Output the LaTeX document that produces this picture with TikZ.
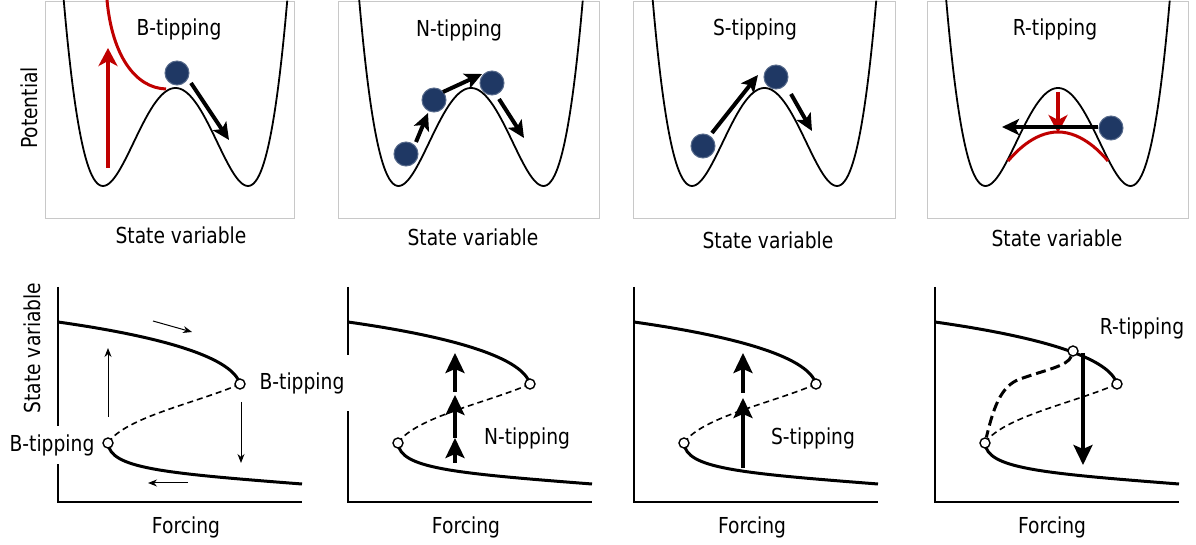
\documentclass[tikz,border=0pt]{standalone}
\usepackage{fontspec}
\setmainfont{DejaVu Sans}[FakeStretch=0.85]
\usetikzlibrary{arrows.meta}

\definecolor{tipred}{RGB}{192,0,0}
\definecolor{ballblue}{RGB}{31,56,100}
\definecolor{framegray}{RGB}{200,200,200}

\tikzset{
  frame/.style={draw=framegray,line width=0.5pt},
  wellline/.style={line width=0.9pt},
  ball/.style={circle,fill=ballblue,draw=ballblue!75!white,line width=0.5pt,minimum size=12pt,inner sep=0pt},
  push/.style={line width=2pt,-{Stealth[length=8.5pt,width=8pt,inset=2pt]}},
  redpush/.style={draw=tipred,line width=1.7pt,-{Stealth[length=9pt,width=9.5pt,inset=2.5pt]}},
  redline/.style={draw=tipred,line width=1.5pt},
  axis/.style={line width=1pt},
  branch/.style={line width=1.5pt},
  unstable/.style={line width=0.8pt,dash pattern=on 3pt off 2pt},
  rdash/.style={line width=1.5pt,dash pattern=on 5pt off 2.5pt},
  fold/.style={circle,draw,fill=white,line width=0.7pt,minimum size=5pt,inner sep=0pt},
  thin/.style={line width=0.5pt,-{Stealth[length=4.5pt,width=3.5pt]}},
  jump/.style={line width=1.8pt,-{Stealth[length=10pt,width=9.5pt,inset=2pt]}},
  lab/.style={fill=white,inner xsep=3pt,inner ysep=4pt},
  well/.pic={
    \draw[wellline] plot[domain=-1.542:1.542,samples=120,smooth]
      ({72.5*\x},{88+98*(1-(\x*\x-1)*(\x*\x-1))});
  },
  bif/.pic={
    \draw[axis] (0,-215) -- (0,0) -- (244,0);
    \draw[branch] (0,-180) .. controls (92,-167) and (174,-147) .. (182,-118);
    \draw[unstable] (182,-118) .. controls (142,-100) and (67,-85) .. (50,-59);
    \draw[branch] (50,-59) .. controls (52,-34) and (102,-29) .. (244,-18);
    \node[fold] (-up) at (182,-118) {};
    \node[fold] (-lo) at (50,-59) {};
  }
}

\begin{document}
\begin{tikzpicture}[x=0.5pt,y=-0.5pt,font=\fontsize{11}{13}\selectfont]
  \useasboundingbox (0,0) rectangle (1196,545);

  % potential landscapes
  \draw[frame] (45,2) rectangle (294,219);
  \draw[frame] (338,2) rectangle (599,219);
  \draw[frame] (633,2) rectangle (895,219);
  \draw[frame] (927,2) rectangle (1188,219);
  \pic at (175.5,0) {well};
  \pic at (471,0) {well};
  \pic at (764.5,0) {well};
  \pic at (1058,0) {well};

  \node (ttlB) at (179,29) {B-tipping};
  \node (ttlN) at (459,30) {N-tipping};
  \node (ttlS) at (755,29) {S-tipping};
  \node (ttlR) at (1055,29) {R-tipping};
  \node[rotate=90] (potlab) at (29,108) {Potential};
  \node (sv1) at (181,235) {State variable};
  \node (sv2) at (473,237) {State variable};
  \node (sv3) at (768,240) {State variable};
  \node (sv4) at (1057,238) {State variable};

  % B
  \draw[redline] (107,0) .. controls (112,55) and (135,88) .. (166,89);
  \draw[redpush] (108,168) -- (108,48);
  \node[ball] (bB) at (177,73) {};
  \draw[push] (191,83) -- (229,140);

  % N
  \node[ball] (bN1) at (406,154) {};
  \node[ball] (bN2) at (434,100) {};
  \node[ball] (bN3) at (492,83) {};
  \draw[push] (416,142) -- (428,113);
  \draw[push] (443,92) -- (482,74);
  \draw[push] (499,99) -- (524,138);

  % S
  \node[ball] (bS1) at (703,146) {};
  \node[ball] (bS2) at (776,77) {};
  \draw[push] (712,133) -- (758,75);
  \draw[push] (791,94) -- (812,131);

  % R
  \draw[redline] (1008,161) parabola bend (1058,132) (1108,161);
  \draw[redpush] (1058,92) -- (1058,133);
  \draw[push] (1098,127) -- (1002,127);
  \node[ball] (bR) at (1111,128) {};

  % bifurcation diagrams
  \pic (b1) at (58,502) {bif};
  \pic (b2) at (348,502) {bif};
  \pic (b3) at (634,502) {bif};
  \pic (b4) at (935,502) {bif};

  \node[rotate=90] (svlab) at (32,348) {State variable};
  \node (fc1) at (186,527) {Forcing};
  \node (fc2) at (466,527) {Forcing};
  \node (fc3) at (752,527) {Forcing};
  \node (fc4) at (1052,527) {Forcing};

  \draw[thin] (153,321) -- (192,332);
  \draw[thin] (108,417) -- (108,348);
  \draw[thin] (241,402) -- (241,463);
  \draw[thin] (188,483) -- (148,483);
  \node[lab,minimum height=28pt] (bt1) at (302,383) {B-tipping};
  \node[lab] (bt2) at (52,445) {B-tipping};

  \draw[jump] (455,463) -- (455,438);
  \draw[jump] (455,438) -- (455,395);
  \draw[jump] (455,392) -- (455,353);
  \node (nt) at (527,438) {N-tipping};

  \draw[jump] (743,468) -- (743,398);
  \draw[jump] (743,393) -- (743,353);
  \node (st) at (813,438) {S-tipping};

  \node[fold] (r4) at (1073,351) {};
  \draw[rdash] (r4) .. controls (1068,366) and (1045,370) .. (1020,379)
    .. controls (1000,386) and (993,410) .. (b4-lo);
  \draw[jump] (1083,353) -- (1083,465);
  \node (rt) at (1142,328) {R-tipping};
\end{tikzpicture}
\end{document}
